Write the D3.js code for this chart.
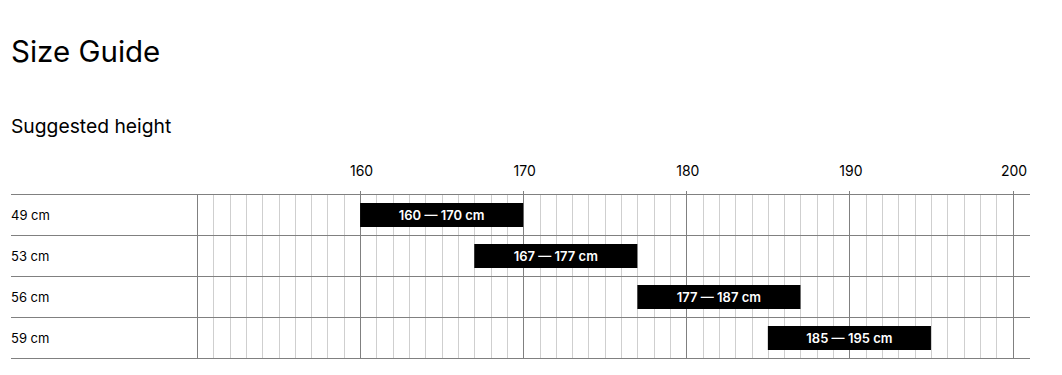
<!DOCTYPE html>
<html><head><meta charset="utf-8">
<script src="https://cdn.jsdelivr.net/npm/d3@7"></script>
<style>
body{margin:0;background:#fff;font-family:Inter,"Noto Sans",sans-serif;}
</style></head>
<body><svg id="chart" width="1062" height="375"></svg>
<script>
const title = "Size Guide";
const subtitle = "Suggested height";
const sizes = ["49 cm","53 cm","56 cm","59 cm"];
const minHeights = [160,167,177,185];
const maxHeights = [170,177,187,195];
const tickValues = [160,170,180,190,200];

const svg = d3.select("#chart");
const x = d3.scaleLinear().domain([150,200]).range([197,1012.5]);
const y = d3.scaleBand().domain(sizes).range([194,358]).paddingInner(0).paddingOuter(0);
const lineLeft = 11, lineRight = 1030;

svg.append("text").attr("x",11).attr("y",62).attr("font-size",29.5).attr("fill","#000").text(title);
svg.append("text").attr("x",11).attr("y",133).attr("font-size",19.3).attr("fill","#000").text(subtitle);

// minor grid
const minor = d3.range(150,201).filter(v=>v%10!==0);
svg.append("g").selectAll("line").data(minor).join("line")
  .attr("x1",d=>Math.round(x(d))+0.5).attr("x2",d=>Math.round(x(d))+0.5)
  .attr("y1",194).attr("y2",358).attr("stroke","#cfcfcf").attr("stroke-width",1);
// major grid
const major = [150,160,170,180,190,200];
svg.append("g").selectAll("line").data(major).join("line")
  .attr("x1",d=>Math.round(x(d))+0.5).attr("x2",d=>Math.round(x(d))+0.5)
  .attr("y1",d=>d===150?194:191).attr("y2",358).attr("stroke","#808080").attr("stroke-width",1);
// horizontal row lines
const hs = sizes.map(s=>y(s)).concat([y.range()[1]]);
svg.append("g").selectAll("line").data(hs).join("line")
  .attr("x1",lineLeft).attr("x2",lineRight)
  .attr("y1",d=>Math.round(d)+0.5).attr("y2",d=>Math.round(d)+0.5)
  .attr("stroke","#808080").attr("stroke-width",1);

// tick labels via axis
const axis = d3.axisTop(x).tickValues(tickValues).tickSize(0).tickPadding(0).tickFormat(d3.format("d"));
const ag = svg.append("g").attr("transform","translate(1,176)").call(axis);
ag.select(".domain").remove();
ag.selectAll("text").attr("font-size",14).attr("font-family","Inter,'Noto Sans',sans-serif").attr("fill","#000");

// row labels
svg.append("g").selectAll("text").data(sizes).join("text")
  .attr("x",11).attr("y",d=>y(d)+y.bandwidth()/2+1).attr("dy","0.35em")
  .attr("font-size",13).attr("fill","#000").text(d=>d);

// bars
const barH = 24;
const rows = sizes.map((s,i)=>({s,lo:minHeights[i],hi:maxHeights[i]}));
const bg = svg.append("g");
bg.selectAll("rect").data(rows).join("rect")
  .attr("x",d=>x(d.lo)).attr("width",d=>x(d.hi)-x(d.lo))
  .attr("y",d=>y(d.s)+y.bandwidth()/2-barH/2+0.5).attr("height",barH).attr("fill","#000");
bg.selectAll("text").data(rows).join("text")
  .attr("x",d=>(x(d.lo)+x(d.hi))/2).attr("y",d=>y(d.s)+y.bandwidth()/2+1).attr("dy","0.35em")
  .attr("text-anchor","middle").attr("font-size",13).attr("font-weight",600).attr("fill","#fff")
  .text(d=>`${d.lo} — ${d.hi} cm`);
</script></body></html>
